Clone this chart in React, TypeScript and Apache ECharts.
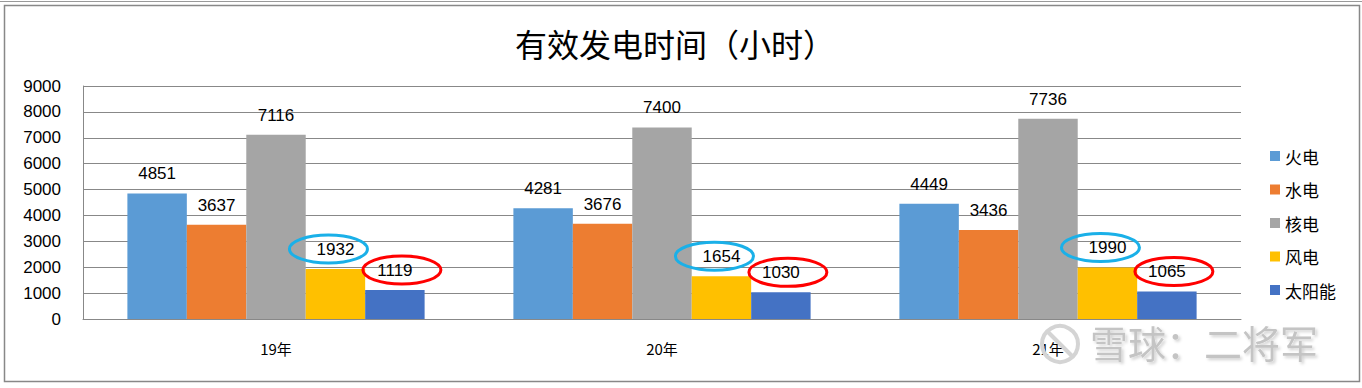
import React, { useEffect, useRef } from "react";
import * as echarts from "echarts";

const categories = ["19年", "20年", "21年"];
const seriesNames = ["火电", "水电", "核电", "风电", "太阳能"];
const thermal = [4851, 4281, 4449];
const hydro = [3637, 3676, 3436];
const nuclear = [7116, 7400, 7736];
const wind = [1932, 1654, 1990];
const solar = [1119, 1030, 1065];
const yTicks = { min: 0, max: 9000, interval: 1000 };
const colors = ["#5B9BD5", "#ED7D31", "#A5A5A5", "#FFC000", "#4472C4"];

const CAT_GAP = 0.23;

function ellipseSeries(values: number[], barIndex: number, color: string, dx: number) {
  return {
    type: "custom",
    name: "ellipse" + barIndex,
    silent: true,
    clip: false,
    z: 10,
    data: values.map((v, i) => [i, v]),
    renderItem: (params: any, api: any) => {
      const pt = api.coord([api.value(0), api.value(1)]);
      const band = api.size([1, 0])[0];
      const w = (band * (1 - CAT_GAP)) / 5;
      const cx = pt[0] + (barIndex - 2) * w + dx;
      const cy = pt[1] - 20;
      return {
        type: "ellipse",
        shape: { cx, cy, rx: 39, ry: 14 },
        style: { fill: "none", stroke: color, lineWidth: 3 },
      };
    },
  };
}

export default function App() {
  const ref = useRef<HTMLDivElement>(null);
  useEffect(() => {
    document.body.style.margin = "0";
    const chart = echarts.init(ref.current!, undefined, { renderer: "svg" });
    const values = [thermal, hydro, nuclear, wind, solar];
    const labelFont = "'Liberation Sans', Arial, sans-serif";
    chart.setOption({
      animation: false,
      backgroundColor: "#ffffff",
      title: {
        text: "有效发电时间（小时）",
        left: 510,
        top: 22,
        textStyle: {
          fontSize: 32,
          fontWeight: "normal",
          color: "#000",
          fontFamily: "'Noto Sans CJK SC', sans-serif",
        },
      },
      legend: {
        data: seriesNames,
        orient: "vertical",
        left: 1265,
        top: 141,
        itemWidth: 10,
        itemHeight: 10,
        itemGap: 13.5,
        icon: "rect",
        textStyle: {
          fontSize: 17,
          lineHeight: 20,
          color: "#000",
          fontFamily: "'Noto Sans CJK SC', sans-serif",
        },
      },
      grid: { left: 83, right: 121, top: 86, bottom: 69 },
      xAxis: {
        type: "category",
        data: categories,
        axisLine: { show: true, lineStyle: { color: "#888", width: 1 } },
        axisTick: { show: false },
        axisLabel: {
          margin: 22,
          fontSize: 15,
          color: "#000",
          fontFamily: "'Noto Sans CJK SC', sans-serif",
        },
      },
      yAxis: {
        type: "value",
        min: yTicks.min,
        max: yTicks.max,
        interval: yTicks.interval,
        axisLine: { show: true, lineStyle: { color: "#888", width: 1 } },
        axisTick: { show: false },
        splitLine: { lineStyle: { color: "#888", width: 1 } },
        axisLabel: {
          margin: 22,
          fontSize: 17,
          color: "#000",
          fontFamily: labelFont,
          formatter: (v: number) => String(v),
        },
      },
      series: [
        ...seriesNames.map((name, i) => ({
          type: "bar",
          name,
          data: values[i],
          barGap: "0%",
          barCategoryGap: CAT_GAP * 100 + "%",
          itemStyle: { color: colors[i] },
          label: {
            show: true,
            position: "top",
            distance: 11,
            fontSize: 17,
            color: "#000",
            fontFamily: labelFont,
          },
        })),
        ellipseSeries(wind, 3, "#1AB0E8", -7),
        ellipseSeries(solar, 4, "#FF0000", 7),
      ],
      graphic: [
        {
          type: "line",
          shape: { x1: 0, y1: 1.5, x2: 1362, y2: 1.5 },
          style: { stroke: "#999", lineWidth: 1 },
          silent: true,
        },
        {
          type: "rect",
          shape: { x: 4.5, y: 5.5, width: 1355, height: 376 },
          style: { fill: "none", stroke: "#888", lineWidth: 1.5 },
          silent: true,
        },
        {
          type: "circle",
          shape: { cx: 1060, cy: 344, r: 18 },
          style: { fill: "none", stroke: "#d4d4d4", lineWidth: 4 },
          silent: true,
          z: 20,
        },
        {
          type: "line",
          shape: { x1: 1048, y1: 332, x2: 1072, y2: 356 },
          style: { stroke: "#d4d4d4", lineWidth: 4 },
          silent: true,
          z: 20,
        },
        {
          type: "text",
          left: 1090,
          top: 322,
          z: 20,
          silent: true,
          style: {
            text: "雪球：二将军",
            fontSize: 38,
            fontWeight: "normal",
            fill: "#c4c4c4",
            fontFamily: "'Noto Sans CJK SC', sans-serif",
            textShadowColor: "rgba(0,0,0,0.18)",
            textShadowBlur: 3,
            textShadowOffsetX: 2,
            textShadowOffsetY: 2,
          },
        },
      ],
    });
    return () => chart.dispose();
  }, []);
  return <div ref={ref} style={{ width: 1362, height: 388 }} />;
}
